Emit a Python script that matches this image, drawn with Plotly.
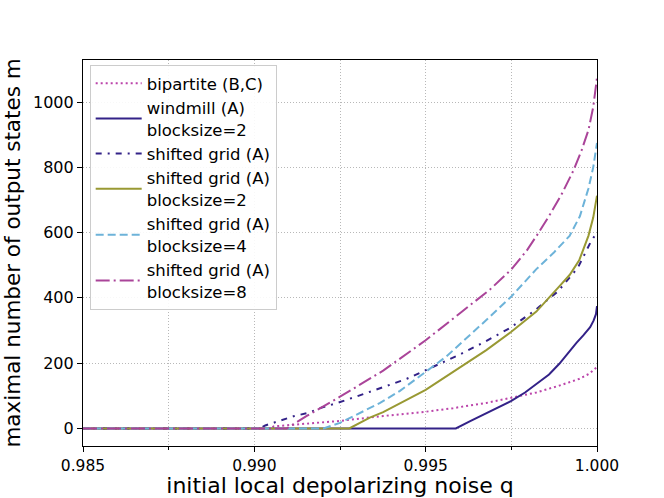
import plotly.graph_objects as go

# values
q_bip = [0.985, 0.9905, 0.99056, 0.9915, 0.9925, 0.99376, 0.995, 0.9958, 0.99677,
         0.9975, 0.99823, 0.9989, 0.99949, 0.99978, 1.0]
m_bip = [0, 0, 6, 15, 23, 38, 51, 62, 78, 94, 110, 131, 152, 168, 188]

q_wind = [0.985, 0.99588, 0.9963, 0.99677, 0.9972, 0.9975, 0.9979, 0.99823,
          0.9986, 0.9989, 0.9992, 0.9994, 0.9996, 0.9998, 0.9999, 0.99997, 1.0]
m_wind = [0, 0, 22, 47, 68, 84, 110, 135, 165, 198, 238, 262, 285, 310, 330,
          350, 375]

q_grid = [0.985, 0.99017, 0.99032, 0.99076, 0.99114, 0.99158, 0.99197, 0.9924,
          0.99279, 0.99318, 0.99445, 0.99513, 0.99595, 0.99672, 0.99745, 0.99818,
          0.99886, 0.99944, 0.99983, 1.0]
m_grid = [0, 0, 9, 23, 37, 48, 64, 77, 92, 105, 152, 185, 224, 265, 307, 361,
          420, 492, 574, 600]

q_b2 = [0.985, 0.99277, 0.99337, 0.99376, 0.995, 0.9958, 0.99677, 0.9975,
        0.99823, 0.9989, 0.9992, 0.99948, 0.99975, 0.99989, 1.0]
m_b2 = [0, 0, 33, 50, 118, 173, 240, 296, 358, 435, 470, 515, 590, 646, 713]

q_b4 = [0.985, 0.99202, 0.9925, 0.99308, 0.99367, 0.99425, 0.99483, 0.9956,
        0.99677, 0.9975, 0.99823, 0.99875, 0.9992, 0.9995, 0.99975, 0.99989, 1.0]
m_b4 = [0, 0, 17, 47, 78, 115, 160, 220, 332, 404, 488, 540, 590, 650, 735,
        800, 875]

q_b8 = [0.985, 0.99095, 0.99153, 0.99202, 0.9925, 0.99376, 0.995, 0.996,
        0.99687, 0.9975, 0.99795, 0.99828, 0.99863, 0.99897, 0.99931, 0.99955,
        0.99975, 0.99989, 1.0]
m_b8 = [0, 0, 38, 68, 97, 177, 270, 353, 425, 487, 545, 597, 656, 718, 790,
        852, 914, 985, 1075]

series = [
    ("bipartite (B,C)", q_bip, m_bip, "#bb44aa", "2px,3px"),
    ("windmill (A)<br>blocksize=2", q_wind, m_wind, "#332288", "solid"),
    ("shifted grid (A)", q_grid, m_grid, "#332288", "6px,6px,2px,6px"),
    ("shifted grid (A)<br>blocksize=2", q_b2, m_b2, "#999933", "solid"),
    ("shifted grid (A)<br>blocksize=4", q_b4, m_b4, "#6db3d9", "8px,4px"),
    ("shifted grid (A)<br>blocksize=8", q_b8, m_b8, "#aa4499", "14px,4px,2px,4px"),
]

fig = go.Figure()
for name, x, y, color, dash in series:
    fig.add_trace(go.Scatter(x=x, y=y, mode="lines", name=name,
                             line=dict(color=color, width=2, dash=dash)))

axis_style = dict(showline=True, linecolor="black", linewidth=1.2, mirror=True,
                  ticks="outside", ticklen=5, tickcolor="black", automargin=False,
                  showgrid=True, gridcolor="#b8b8b8", griddash="1px,2px", gridwidth=1,
                  zeroline=False, tickfont=dict(size=16, color="black"))

fig.update_xaxes(range=[0.985, 1.0], dtick=0.005, tickformat=".3f",
                 title=dict(text="initial local depolarizing noise q",
                            font=dict(size=22, color="black"), standoff=7),
                 minor=dict(dtick=0.0025, ticks="outside", ticklen=3,
                            tickcolor="black", showgrid=True, gridcolor="#b8b8b8",
                            griddash="1px,2px"),
                 **axis_style)
fig.update_xaxes(tickfont=dict(size=15.5, color="black"))
fig.update_yaxes(range=[-54, 1129], dtick=200,
                 title=dict(text="maximal number of output states m",
                            font=dict(size=21.5, color="black"), standoff=6),
                 **axis_style)

fig.update_layout(
    width=664, height=498,
    margin=dict(l=83, r=67, t=60, b=52),
    paper_bgcolor="white", plot_bgcolor="white",
    font=dict(family="DejaVu Sans", color="black"),
    legend=dict(x=0.013, y=0.987, xanchor="left", yanchor="top",
                bgcolor="rgba(255,255,255,0.9)", bordercolor="#cccccc",
                borderwidth=1, font=dict(size=16.5), tracegroupgap=0,
                itemwidth=46),
)

# the page body has a default margin; drop it so the figure sits at 0,0
fig.write_html("out.html", config={"displayModeBar": False},
               post_script="document.body.style.margin='0';")
